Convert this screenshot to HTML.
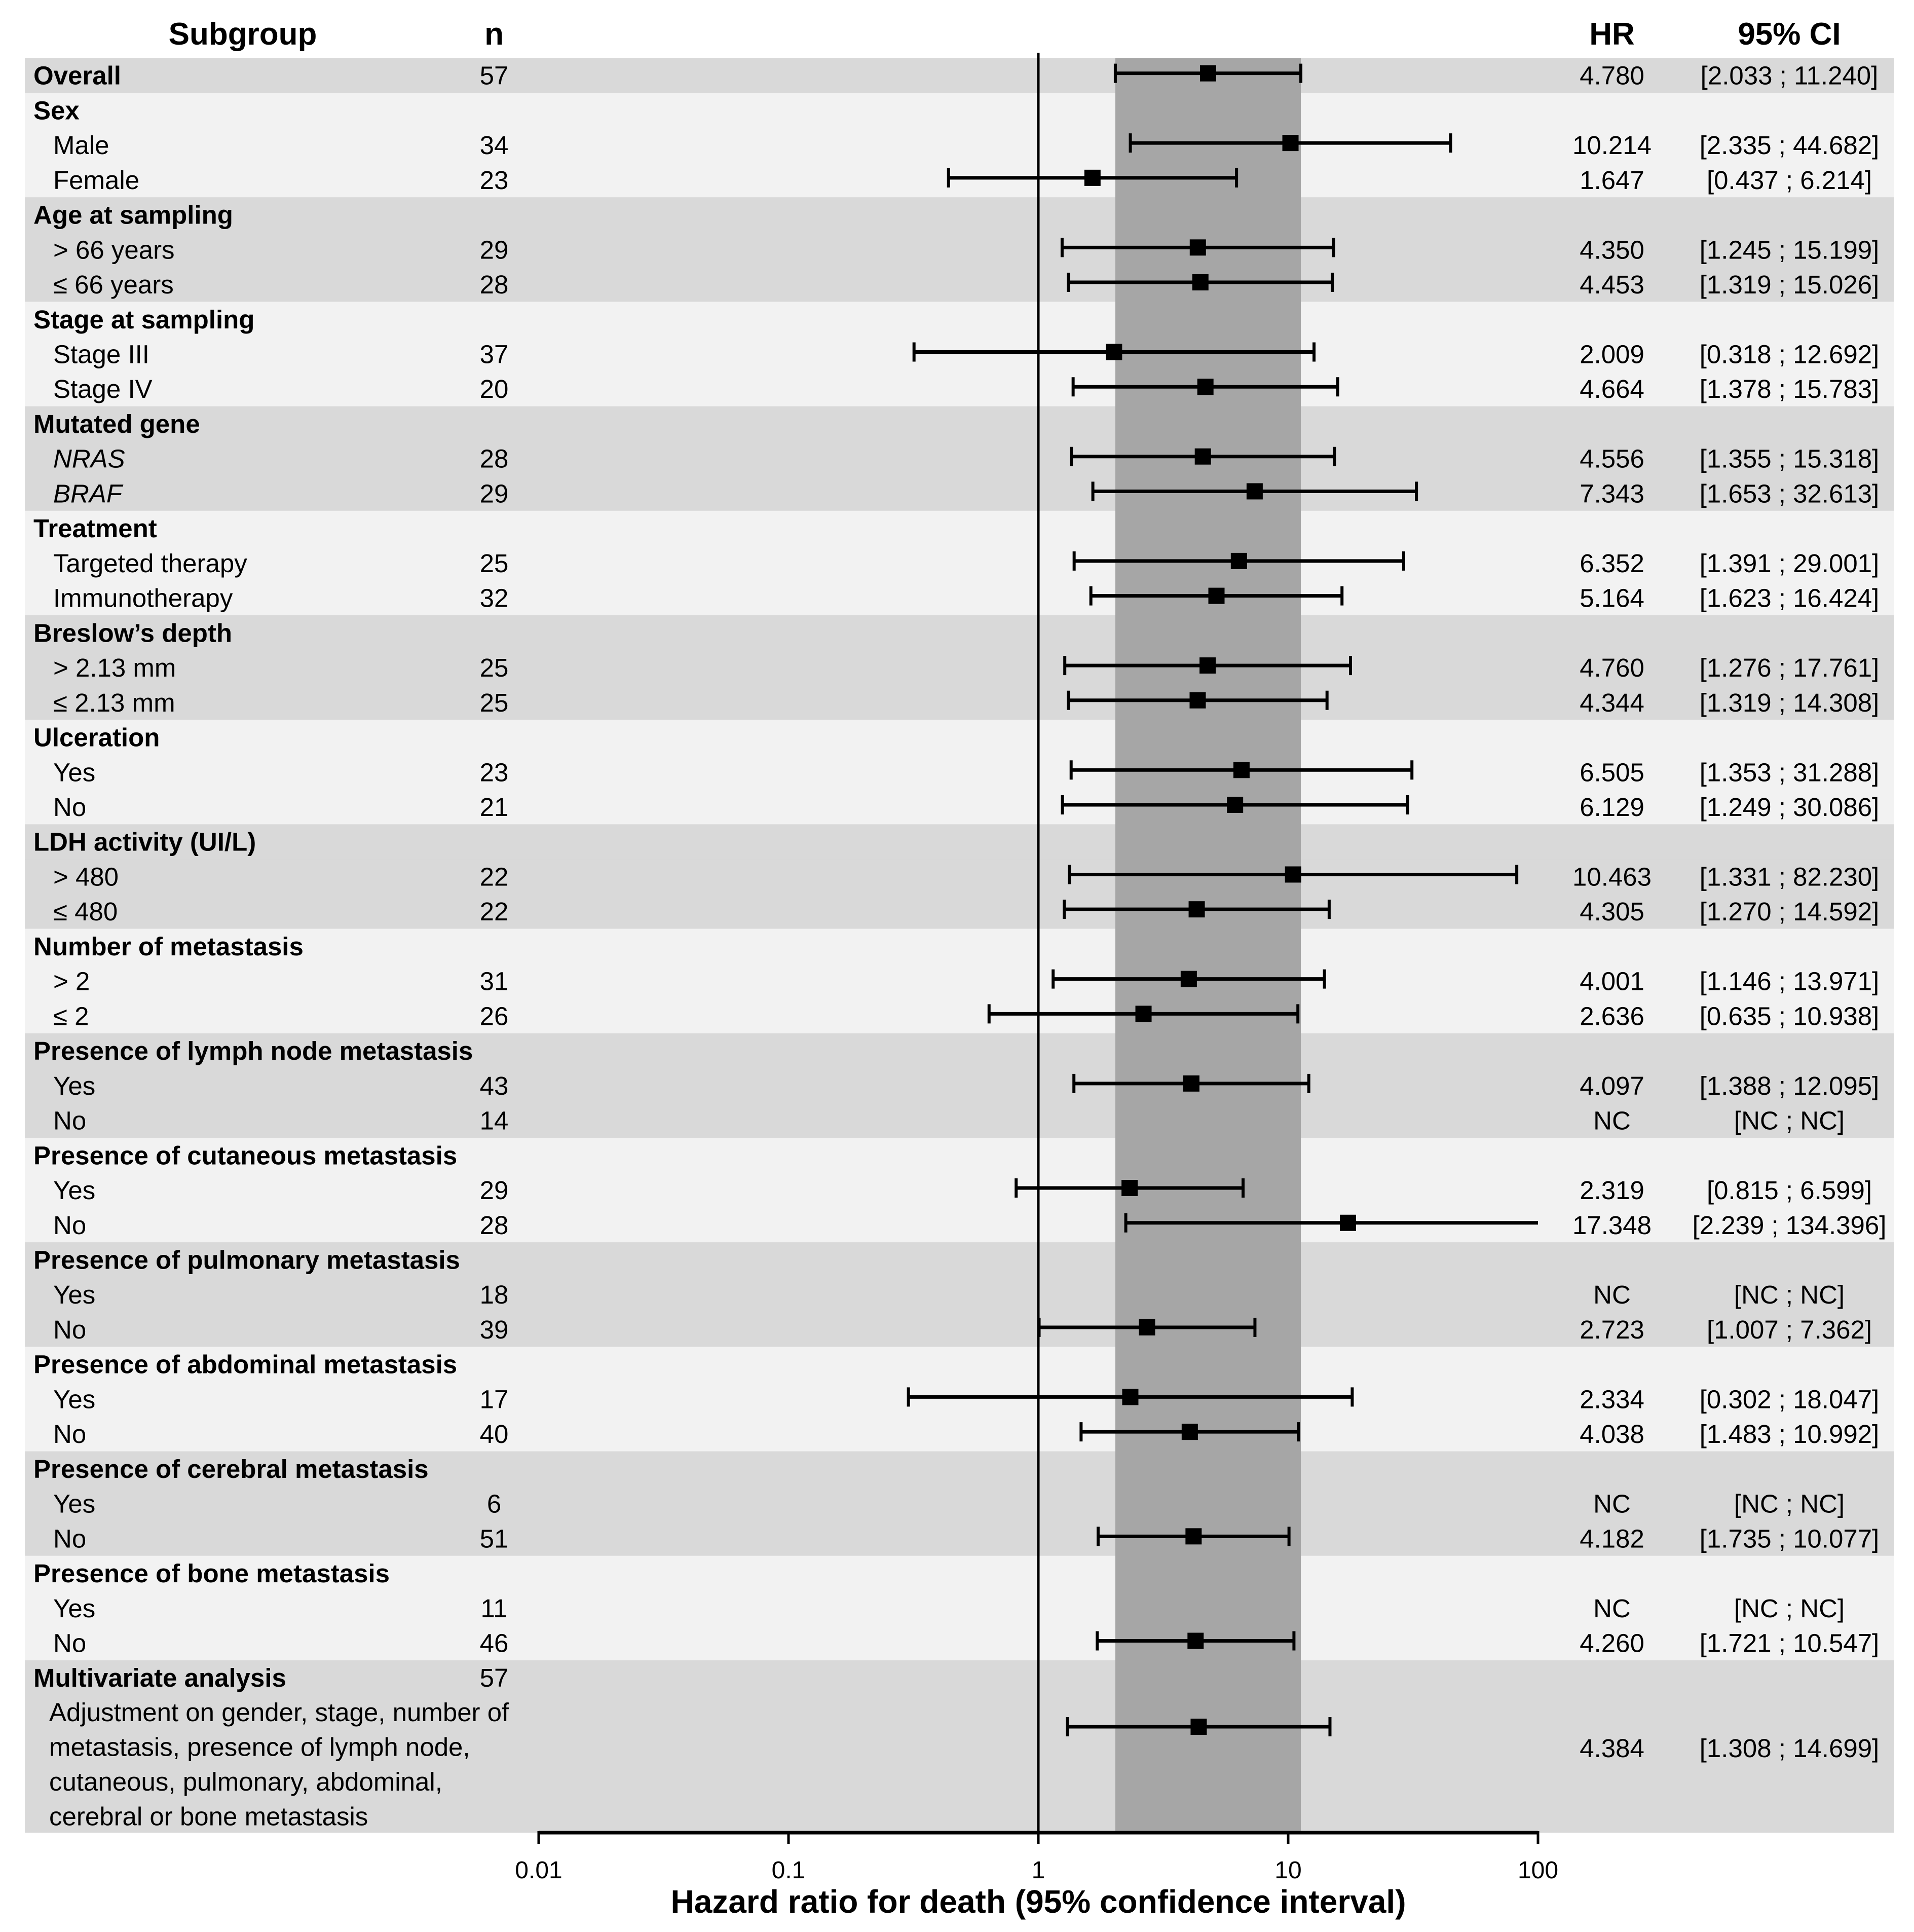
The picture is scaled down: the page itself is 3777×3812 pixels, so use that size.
<!DOCTYPE html>
<html><head><meta charset="utf-8">
<style>
html,body{margin:0;padding:0;background:#fff;}
svg{display:block;font-family:"Liberation Sans Narrow","Liberation Sans",sans-serif;}
</style></head>
<body>
<svg id="chart" width="3777" height="3812" viewBox="0 0 3777 3812" xmlns="http://www.w3.org/2000/svg">
<g id="bands"></g>
<rect id="ref-band" fill="#a6a6a6"></rect>
<line id="null-line" stroke="#000" stroke-width="5"></line>
<g id="rows"></g>
<g id="axis"></g>
<text x="479" y="88" font-size="62" font-weight="bold" text-anchor="middle">Subgroup</text>
<text x="975" y="88" font-size="62" font-weight="bold" text-anchor="middle">n</text>
<text x="3181" y="88" font-size="62" font-weight="bold" text-anchor="middle">HR</text>
<text x="3531" y="88" font-size="62" font-weight="bold" text-anchor="middle">95% CI</text>
<text x="2049" y="3774" font-size="64" font-weight="bold" text-anchor="middle">Hazard ratio for death (95% confidence interval)</text>
</svg>
<script>
const labels = ["Overall","Sex","Male","Female","Age at sampling","> 66 years","≤ 66 years","Stage at sampling","Stage III","Stage IV","Mutated gene","NRAS","BRAF","Treatment","Targeted therapy","Immunotherapy","Breslow’s depth","> 2.13 mm","≤ 2.13 mm","Ulceration","Yes","No","LDH activity (UI/L)","> 480","≤ 480","Number of metastasis","> 2","≤ 2","Presence of lymph node metastasis","Yes","No","Presence of cutaneous metastasis","Yes","No","Presence of pulmonary metastasis","Yes","No","Presence of abdominal metastasis","Yes","No","Presence of cerebral metastasis","Yes","No","Presence of bone metastasis","Yes","No"];
const types = ["o","h","s","s","h","s","s","h","s","s","h","s","s","h","s","s","h","s","s","h","s","s","h","s","s","h","s","s","h","s","s","h","s","s","h","s","s","h","s","s","h","s","s","h","s","s"];
const nValues = ["57","","34","23","","29","28","","37","20","","28","29","","25","32","","25","25","","23","21","","22","22","","31","26","","43","14","","29","28","","18","39","","17","40","","6","51","","11","46"];
const hrValues = [4.780,null,10.214,1.647,null,4.350,4.453,null,2.009,4.664,null,4.556,7.343,null,6.352,5.164,null,4.760,4.344,null,6.505,6.129,null,10.463,4.305,null,4.001,2.636,null,4.097,"NC",null,2.319,17.348,null,"NC",2.723,null,2.334,4.038,null,"NC",4.182,null,"NC",4.260];
const ciLow = [2.033,null,2.335,0.437,null,1.245,1.319,null,0.318,1.378,null,1.355,1.653,null,1.391,1.623,null,1.276,1.319,null,1.353,1.249,null,1.331,1.270,null,1.146,0.635,null,1.388,"NC",null,0.815,2.239,null,"NC",1.007,null,0.302,1.483,null,"NC",1.735,null,"NC",1.721];
const ciHigh = [11.240,null,44.682,6.214,null,15.199,15.026,null,12.692,15.783,null,15.318,32.613,null,29.001,16.424,null,17.761,14.308,null,31.288,30.086,null,82.230,14.592,null,13.971,10.938,null,12.095,"NC",null,6.599,134.396,null,"NC",7.362,null,18.047,10.992,null,"NC",10.077,null,"NC",10.547];
const multiHR = 4.384, multiLow = 1.308, multiHigh = 14.699;
const tickValues = [0.01,0.1,1,10,100];
const tickLabels = ["0.01","0.1","1","10","100"];

const NS="http://www.w3.org/2000/svg";
const X0=1063, X1=3035, minL=-2, maxL=2;
function xs(v){ return X0+(Math.log10(v)-minL)/(maxL-minL)*(X1-X0); }
const TOP=114.3, RH=68.73, BX=49, BW=3689;
const MULTI_TOP=TOP+46*RH, BOTTOM=3616;
const FS=51;
function mk(tag,attrs,parent){const e=document.createElementNS(NS,tag);for(const k in attrs)e.setAttribute(k,attrs[k]);parent.appendChild(e);return e;}
function fmt(v){return typeof v==="number"?v.toFixed(3):v;}
const bands=document.getElementById('bands'), rows=document.getElementById('rows'), axis=document.getElementById('axis');

let gi=-1;
for(let i=0;i<labels.length;i++){
  if(types[i]!=="s") gi++;
  const r=mk('rect',{x:BX,y:TOP+i*RH,width:BW,height:RH+0.5,fill:gi%2===0?"#d9d9d9":"#f2f2f2"},bands);
  
  
}
const mb=mk('rect',{x:BX,y:MULTI_TOP,width:BW,height:BOTTOM-MULTI_TOP,fill:"#d9d9d9"},bands);



const rb=document.getElementById('ref-band');
rb.setAttribute('x',xs(ciLow[0]));rb.setAttribute('width',xs(ciHigh[0])-xs(ciLow[0]));
rb.setAttribute('y',TOP);rb.setAttribute('height',BOTTOM-TOP);
const nl=document.getElementById('null-line');
nl.setAttribute('x1',xs(1));nl.setAttribute('x2',xs(1));nl.setAttribute('y1',104);nl.setAttribute('y2',BOTTOM);

function drawCI(hr,lo,hi,yc){
  const xl=xs(Math.max(lo,0.01)), xh=xs(Math.min(hi,100));
  const l=mk('line',{x1:xl,x2:xh,y1:yc,y2:yc,stroke:"#000","stroke-width":7},rows);
  
  
  if(lo>=0.01){const c=mk('line',{x1:xl,x2:xl,y1:yc-19,y2:yc+19,stroke:"#000","stroke-width":6},rows);
    
    }
  if(hi<=100){const c=mk('line',{x1:xh,x2:xh,y1:yc-19,y2:yc+19,stroke:"#000","stroke-width":6},rows);
    
    }
  const m=mk('rect',{x:xs(hr)-16,y:yc-16,width:32,height:32,fill:"#000"},rows);
  
  
}

for(let i=0;i<labels.length;i++){
  const yc=TOP+(i+0.5)*RH, ty=yc+18;
  const t=mk('text',{x:types[i]==="s"?105:66,y:ty,"font-size":FS},rows);
  if(types[i]!=="s") t.setAttribute('font-weight','bold');
  if(labels[i]==="NRAS"||labels[i]==="BRAF") t.setAttribute('font-style','italic');
  t.textContent=labels[i];
  
  
  if(nValues[i]){const n=mk('text',{x:975,y:ty,"font-size":FS,"text-anchor":"middle"},rows);n.textContent=nValues[i];
    
    }
  if(hrValues[i]!==null){
    const h=mk('text',{x:3181,y:ty,"font-size":FS,"text-anchor":"middle"},rows);h.textContent=fmt(hrValues[i]);
    
    
    const c=mk('text',{x:3531,y:ty,"font-size":FS,"text-anchor":"middle"},rows);c.textContent="["+fmt(ciLow[i])+" ; "+fmt(ciHigh[i])+"]";
    
    
    if(typeof hrValues[i]==="number") drawCI(hrValues[i],ciLow[i],ciHigh[i],yc-4);
  }
}
const mt=mk('text',{x:66,y:MULTI_TOP+52,"font-size":FS,"font-weight":"bold"},rows);mt.textContent="Multivariate analysis";


const mn=mk('text',{x:975,y:MULTI_TOP+52,"font-size":FS,"text-anchor":"middle"},rows);mn.textContent="57";


const adj=["Adjustment on gender, stage, number of","metastasis, presence of lymph node,","cutaneous, pulmonary, abdominal,","cerebral or bone metastasis"];
adj.forEach((s,k)=>{const t=mk('text',{x:97,y:MULTI_TOP+120+k*68.5,"font-size":FS},rows);t.textContent=s;
  
  });
const mh=mk('text',{x:3181,y:3467,"font-size":FS,"text-anchor":"middle"},rows);mh.textContent=fmt(multiHR);


const mc=mk('text',{x:3531,y:3467,"font-size":FS,"text-anchor":"middle"},rows);mc.textContent="["+fmt(multiLow)+" ; "+fmt(multiHigh)+"]";


drawCI(multiHR,multiLow,multiHigh,3407);

const al=mk('line',{x1:X0,x2:X1,y1:3616,y2:3616,stroke:"#000","stroke-width":7},axis);


tickValues.forEach((v,k)=>{
  const tk=mk('line',{x1:xs(v),x2:xs(v),y1:3613,y2:3638,stroke:"#000","stroke-width":5},axis);
  
  
  const tl=mk('text',{x:xs(v),y:3706,"font-size":48,"text-anchor":"middle"},axis);tl.textContent=tickLabels[k];
  
  
});
</script>
</body></html>
